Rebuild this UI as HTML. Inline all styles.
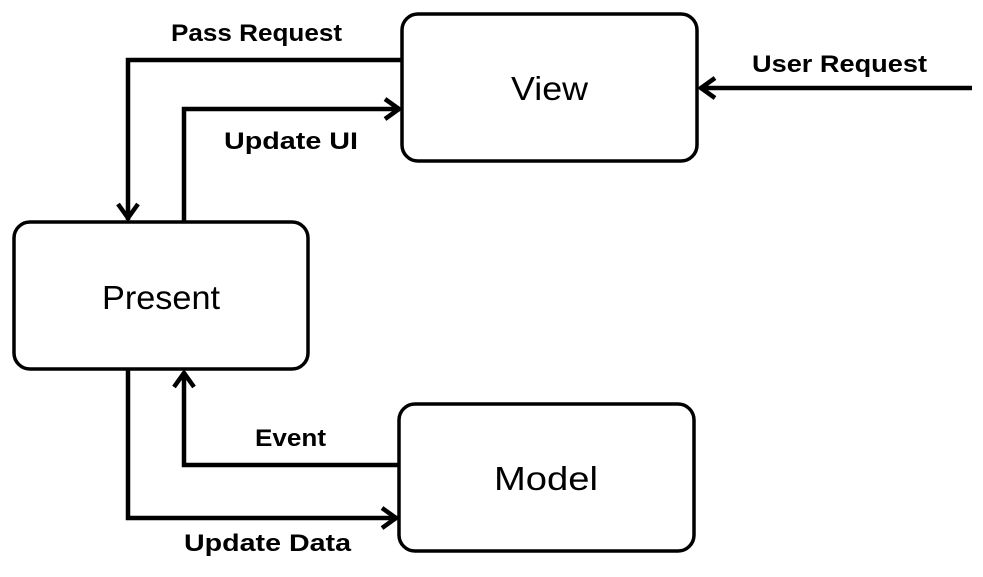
<!DOCTYPE html>
<html><head><meta charset="utf-8"><style>
html,body{margin:0;padding:0;background:#fff;}
svg{display:block}
.l{font-family:"Liberation Sans",sans-serif;font-weight:bold;font-size:24px;fill:#000}
.b{font-family:"Liberation Sans",sans-serif;font-size:33px;fill:#000}
</style></head><body>
<svg width="983" height="577" viewBox="0 0 983 577" xmlns="http://www.w3.org/2000/svg">
<g fill="#fff" stroke="#000" stroke-width="3.5">
<rect x="402" y="14" width="295" height="147" rx="16"/>
<rect x="14" y="222" width="294" height="147" rx="16"/>
<rect x="399" y="404" width="295" height="147" rx="16"/>
</g>
<g fill="none" stroke="#000" stroke-width="4.5" stroke-linejoin="miter">
<polyline points="402,60 128,60 128,220"/>
<polyline points="118,204 128,218 138,204"/>
<polyline points="184,222 184,109 400,109"/>
<polyline points="385,99 399,109 385,119"/>
<polyline points="972,88 700,88"/>
<polyline points="715,78 701,88 715,98"/>
<polyline points="399,465 184,465 184,372"/>
<polyline points="174,387 184,373 194,387"/>
<polyline points="128,369 128,518 397,518"/>
<polyline points="382,508 396,518 382,528"/>
</g>
<text class="l" x="171" y="41" textLength="171" lengthAdjust="spacingAndGlyphs">Pass Request</text>
<text class="l" x="224" y="149" textLength="134" lengthAdjust="spacingAndGlyphs">Update UI</text>
<text class="l" x="752" y="72" textLength="175" lengthAdjust="spacingAndGlyphs">User Request</text>
<text class="l" x="255" y="446" textLength="71" lengthAdjust="spacingAndGlyphs">Event</text>
<text class="l" x="184" y="551" textLength="167" lengthAdjust="spacingAndGlyphs">Update Data</text>
<text class="b" x="511" y="100" textLength="77" lengthAdjust="spacingAndGlyphs">View</text>
<text class="b" x="102" y="309" textLength="118" lengthAdjust="spacingAndGlyphs">Present</text>
<text class="b" x="494" y="490" textLength="104" lengthAdjust="spacingAndGlyphs">Model</text>
</svg>
</body></html>
